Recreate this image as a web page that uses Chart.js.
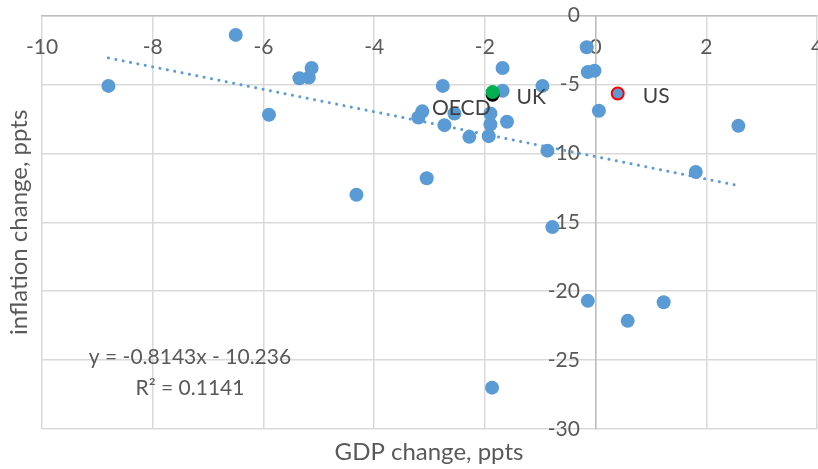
<!DOCTYPE html>
<html>
<head>
<meta charset="utf-8">
<script src="https://cdn.jsdelivr.net/npm/chart.js@4.4.1/dist/chart.umd.min.js"></script>
<style>
  html, body { margin: 0; padding: 0; background: #fff; }
  #wrap { width: 818px; height: 469px; }
</style>
</head>
<body>
<div id="wrap"><canvas id="scatterChart" width="818" height="469"></canvas></div>
<script>
/* DATA */
// GDP change (x) and inflation change (y), ppts
var gdpChange = [-8.8, -6.5, -5.9, -5.35, -5.18, -5.13, -4.32, -3.2, -3.13, -3.05, -2.76, -2.73, -2.55,
  -2.28, -1.93, -1.9, -1.9, -1.87, -1.68, -1.68, -1.6, -0.96, -0.87, -0.78, -0.16, -0.14, -0.02,
  -0.14, 0.06, 0.58, 1.23, 1.81, 2.58];
var inflationChange = [-5.1, -1.4, -7.2, -4.55, -4.5, -3.8, -13.0, -7.4, -6.95, -11.8, -5.1, -7.95, -7.1,
  -8.8, -8.75, -7.1, -7.9, -27.0, -3.8, -5.45, -7.7, -5.1, -9.8, -15.35, -2.3, -4.1, -4.0,
  -20.7, -6.9, -22.15, -20.8, -11.35, -8.0];

// highlighted points
var highlightNames = ["UK", "OECD", "US"];
var highlightGdp = [-1.86, -1.86, 0.4];
var highlightInflation = [-5.55, -5.75, -5.65];

// linear trendline end points
var trendGdp = [-8.8, 2.6];
var trendInflation = [-3.07, -12.35];
var trendLabel = ["y = -0.8143x - 10.236", "R\u00B2 = 0.1141"];

// axis ticks
var xTicks = [-10, -8, -6, -4, -2, 0, 2, 4];
var yTicks = [-30, -25, -20, -15, -10, -5, 0];

var textFont = "Lato, 'Liberation Sans', sans-serif";
var blue = "#5B9BD5";

function toPoints(xs, ys) {
  return xs.map(function (x, i) { return { x: x, y: ys[i] }; });
}

/* TEXT PLUGIN: data labels, trendline equation, axis titles */
const chartText = {
  id: "chartText",
  afterDatasetsDraw(chart) {
    const ctx = chart.ctx;
    const area = chart.chartArea;
    ctx.save();
    ctx.textBaseline = "middle";

    // data labels next to the highlighted points
    ctx.font = "21px " + textFont;
    ctx.fillStyle = "#404040";
    const labelOffsets = { UK: [24, 5, "left"], OECD: [-2, 13, "right"], US: [25, 3, "left"] };
    highlightNames.forEach(function (name, i) {
      const el = chart.getDatasetMeta(i + 1).data[0];
      const off = labelOffsets[name];
      ctx.textAlign = off[2];
      ctx.fillText(name, el.x + off[0], el.y + off[1]);
    });

    // trendline equation
    ctx.fillStyle = "#595959";
    ctx.textAlign = "center";
    ctx.fillText(trendLabel[0], area.left + 148, 357);
    ctx.fillText(trendLabel[1], area.left + 148, 388);

    // axis titles
    ctx.font = "24px " + textFont;
    ctx.fillText("GDP change, ppts", 429, 452);
    ctx.translate(19, (area.top + area.bottom) / 2);
    ctx.rotate(-Math.PI / 2);
    ctx.fillText("inflation change, ppts", 0, 0);
    ctx.restore();
  }
};

new Chart("scatterChart", {
  type: "scatter",
  data: {
    datasets: [
      {
        type: "line",
        data: toPoints(trendGdp, trendInflation),
        borderColor: blue,
        borderWidth: 3,
        borderCapStyle: "round",
        borderDash: [0.01, 7.5],
        pointRadius: 0,
        fill: false,
      },
      {
        data: toPoints([highlightGdp[0]], [highlightInflation[0]]),
        backgroundColor: "#00B050",
        borderWidth: 0,
        pointRadius: 7,
      },
      {
        data: toPoints([highlightGdp[1]], [highlightInflation[1]]),
        backgroundColor: "#000000",
        borderWidth: 0,
        pointRadius: 7,
      },
      {
        data: toPoints([highlightGdp[2]], [highlightInflation[2]]),
        backgroundColor: blue,
        borderColor: "#FF0000",
        borderWidth: 2,
        pointRadius: 6,
      },
      {
        data: toPoints(gdpChange, inflationChange),
        backgroundColor: blue,
        borderWidth: 0,
        pointRadius: 7,
      },
    ],
  },
  options: {
    responsive: false,
    animation: false,
    events: [],
    layout: { autoPadding: false, padding: { left: 42, top: 15, right: 1, bottom: 40 } },
    plugins: {
      legend: { display: false },
      tooltip: { enabled: false },
    },
    scales: {
      x: {
        type: "linear",
        min: -10,
        max: 4,
        position: { y: 0 },
        afterBuildTicks: (s) => { s.ticks = xTicks.map((v) => ({ value: v })); },
        afterFit: (s) => { s.paddingLeft = 0; s.paddingRight = 0; },
        grid: { color: "#d9d9d9", lineWidth: 1.5, drawTicks: false },
        border: { color: "#bfbfbf", width: 1.5 },
        ticks: {
          padding: 19,
          color: "#595959",
          font: { family: textFont, size: 21 },
        },
      },
      y: {
        type: "linear",
        min: -30,
        max: 0,
        position: { x: 0 },
        afterBuildTicks: (s) => { s.ticks = yTicks.map((v) => ({ value: v })); },
        grid: { color: "#d9d9d9", lineWidth: 1.5, drawTicks: false },
        border: { color: "#bfbfbf", width: 1.5 },
        ticks: {
          color: "#595959",
          font: { family: textFont, size: 21 },
          // labels sit left of the axis line with a gap
          callback: (value) => value + "\u2003",
        },
      },
    },
  },
  plugins: [chartText],
});
</script>
</body>
</html>
